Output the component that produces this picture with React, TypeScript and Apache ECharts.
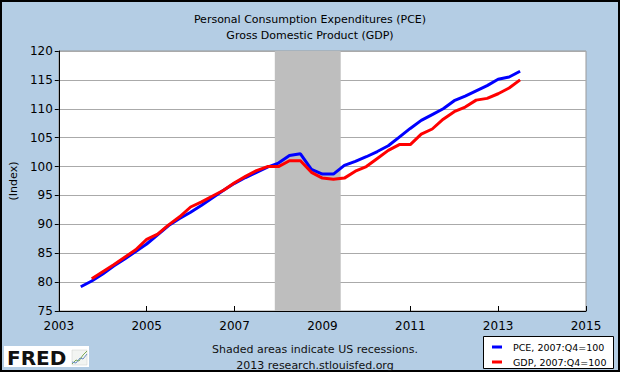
import React, { useEffect, useRef } from "react";
import * as echarts from "echarts";

const QUARTERS = [
  "2003Q3", "2003Q4",
  "2004Q1", "2004Q2", "2004Q3", "2004Q4",
  "2005Q1", "2005Q2", "2005Q3", "2005Q4",
  "2006Q1", "2006Q2", "2006Q3", "2006Q4",
  "2007Q1", "2007Q2", "2007Q3", "2007Q4",
  "2008Q1", "2008Q2", "2008Q3", "2008Q4",
  "2009Q1", "2009Q2", "2009Q3", "2009Q4",
  "2010Q1", "2010Q2", "2010Q3", "2010Q4",
  "2011Q1", "2011Q2", "2011Q3", "2011Q4",
  "2012Q1", "2012Q2", "2012Q3", "2012Q4",
  "2013Q1", "2013Q2", "2013Q3",
];

const PCE = [
  79.2, 80.2,
  81.4, 82.8, 84.0, 85.3,
  86.6, 88.2, 89.8, 91.0,
  92.1, 93.3, 94.6, 95.9,
  97.1, 98.1, 99.0, 99.9,
  100.6, 101.9, 102.2, 99.5,
  98.7, 98.7, 100.2, 100.9,
  101.7, 102.6, 103.6, 105.1,
  106.6, 108.0, 109.0, 110.0,
  111.4, 112.2, 113.1, 114.0,
  115.1, 115.5, 116.5,
];

const GDP = [
  null, 80.6,
  81.8, 83.0, 84.3, 85.6,
  87.4, 88.3, 89.9, 91.3,
  93.0, 93.9, 94.9, 95.9,
  97.2, 98.3, 99.3, 100.0,
  100.0, 101.0, 101.0, 99.0,
  98.0, 97.8, 98.0, 99.2,
  100.0, 101.4, 102.8, 103.8,
  103.8, 105.6, 106.5, 108.2,
  109.5, 110.3, 111.5, 111.8,
  112.6, 113.6, 115.0,
];

const RECESSION = ["2007-12", "2009-06"];

const TITLE_LINES = ["Personal Consumption Expenditures (PCE)", "Gross Domestic Product (GDP)"];
const FOOTER_LINES = ["Shaded areas indicate US recessions.", "2013 research.stlouisfed.org"];
const SERIES_NAMES = ["PCE, 2007:Q4=100", "GDP, 2007:Q4=100"];

const quarterToYear = (q: string) => Number(q.slice(0, 4)) + (Number(q[5]) - 1) / 4;
const monthToYear = (m: string) => Number(m.slice(0, 4)) + (Number(m.slice(5, 7)) - 1) / 12;

const FONT = "DejaVu Sans";

export default function App() {
  const ref = useRef<HTMLDivElement>(null);

  useEffect(() => {
    document.body.style.margin = "0";
    if (!ref.current) return;
    const chart = echarts.init(ref.current, null, { renderer: "svg" });

    const pceData = QUARTERS.map((q, i) => [quarterToYear(q), PCE[i]]);
    const gdpData = QUARTERS.map((q, i) => [quarterToYear(q), GDP[i]]).filter((d) => d[1] !== null);

    chart.setOption({
      animation: false,
      backgroundColor: "#B4CDE4",
      textStyle: { fontFamily: FONT },
      title: {
        text: TITLE_LINES.join("\n"),
        left: "center",
        top: 6,
        textStyle: { fontSize: 11, fontWeight: "normal", color: "#000", lineHeight: 16, fontFamily: FONT },
      },
      grid: {
        left: 54,
        right: 34,
        top: 51,
        bottom: 61,
        show: true,
        backgroundColor: "#FFFFFF",
        borderColor: "#999999",
        borderWidth: 1,
      },
      xAxis: {
        type: "value",
        min: 2003,
        max: 2015,
        interval: 2,
        axisLine: { show: true, lineStyle: { color: "#000", width: 1 } },
        axisTick: { show: true, inside: true, length: 5, lineStyle: { color: "#000" } },
        axisLabel: { fontSize: 12, color: "#000", margin: 9, fontFamily: FONT, formatter: (v: number) => String(v) },
        splitLine: { show: false },
      },
      yAxis: {
        type: "value",
        min: 75,
        max: 120,
        interval: 5,
        name: "(Index)",
        nameLocation: "middle",
        nameGap: 37,
        nameTextStyle: { fontSize: 11, color: "#000", fontFamily: FONT },
        axisLine: { show: true, lineStyle: { color: "#000", width: 1 } },
        axisTick: { show: true, inside: false, length: 4, lineStyle: { color: "#000" } },
        axisLabel: { fontSize: 12, color: "#000", margin: 6, fontFamily: FONT },
        splitLine: { show: true, lineStyle: { color: "#AAAAAA", width: 1 } },
      },
      series: [
        {
          name: SERIES_NAMES[0],
          type: "line",
          data: pceData,
          showSymbol: false,
          lineStyle: { color: "#0000FF", width: 3 },
          itemStyle: { color: "#0000FF" },
          markArea: {
            silent: true,
            itemStyle: { color: "#BEBEBE", opacity: 1 },
            data: [[{ xAxis: monthToYear(RECESSION[0]) }, { xAxis: monthToYear(RECESSION[1]) }]],
          },
        },
        {
          name: SERIES_NAMES[1],
          type: "line",
          data: gdpData,
          showSymbol: false,
          lineStyle: { color: "#FF0000", width: 3 },
          itemStyle: { color: "#FF0000" },
        },
      ],
      graphic: [
        {
          type: "rect",
          shape: { x: 1, y: 1, width: 618, height: 370 },
          style: { fill: "none", stroke: "#000", lineWidth: 2 },
          silent: true,
        },
        {
          type: "text",
          x: 315,
          y: 349,
          style: { text: FOOTER_LINES[0], fontSize: 11, fill: "#111", align: "center", verticalAlign: "middle", fontFamily: FONT },
        },
        {
          type: "text",
          x: 315,
          y: 365,
          style: { text: FOOTER_LINES[1], fontSize: 11, fill: "#111", align: "center", verticalAlign: "middle", fontFamily: FONT },
        },
        {
          type: "rect",
          shape: { x: 483.5, y: 336.5, width: 130, height: 32 },
          style: { fill: "#FFFFFF", stroke: "#000", lineWidth: 1 },
        },
        {
          type: "line",
          shape: { x1: 492, y1: 347, x2: 502, y2: 347 },
          style: { stroke: "#0000FF", lineWidth: 3 },
        },
        {
          type: "line",
          shape: { x1: 492, y1: 362, x2: 502, y2: 362 },
          style: { stroke: "#FF0000", lineWidth: 3 },
        },
        {
          type: "text",
          x: 513,
          y: 347,
          style: { text: SERIES_NAMES[0], fontSize: 9.5, fill: "#000", align: "left", verticalAlign: "middle", fontFamily: FONT },
        },
        {
          type: "text",
          x: 513,
          y: 362,
          style: { text: SERIES_NAMES[1], fontSize: 9.5, fill: "#000", align: "left", verticalAlign: "middle", fontFamily: FONT },
        },
        {
          type: "rect",
          shape: { x: 4, y: 346, width: 85, height: 21 },
          style: { fill: "#FFFFFF" },
        },
        {
          type: "text",
          x: 7,
          y: 358,
          style: { text: "FRED", fontSize: 20, fontWeight: "bold", fill: "#111", align: "left", verticalAlign: "middle", fontFamily: FONT },
        },
        {
          type: "rect",
          shape: { x: 72, y: 350, width: 15, height: 15 },
          style: { fill: "#F2F4F2", stroke: "#C8CCC8", lineWidth: 0.5 },
        },
        {
          type: "polyline",
          shape: { points: [[72, 364], [76, 360], [79, 361], [83, 355], [87, 351]] },
          style: { stroke: "#7BAA55", lineWidth: 1, fill: "none" },
        },
        {
          type: "polyline",
          shape: { points: [[72, 362], [76, 363], [80, 358], [83, 359], [87, 354]] },
          style: { stroke: "#6A8FC0", lineWidth: 1, fill: "none" },
        },
      ],
    });

    return () => chart.dispose();
  }, []);

  return <div ref={ref} style={{ width: 620, height: 372 }} />;
}
